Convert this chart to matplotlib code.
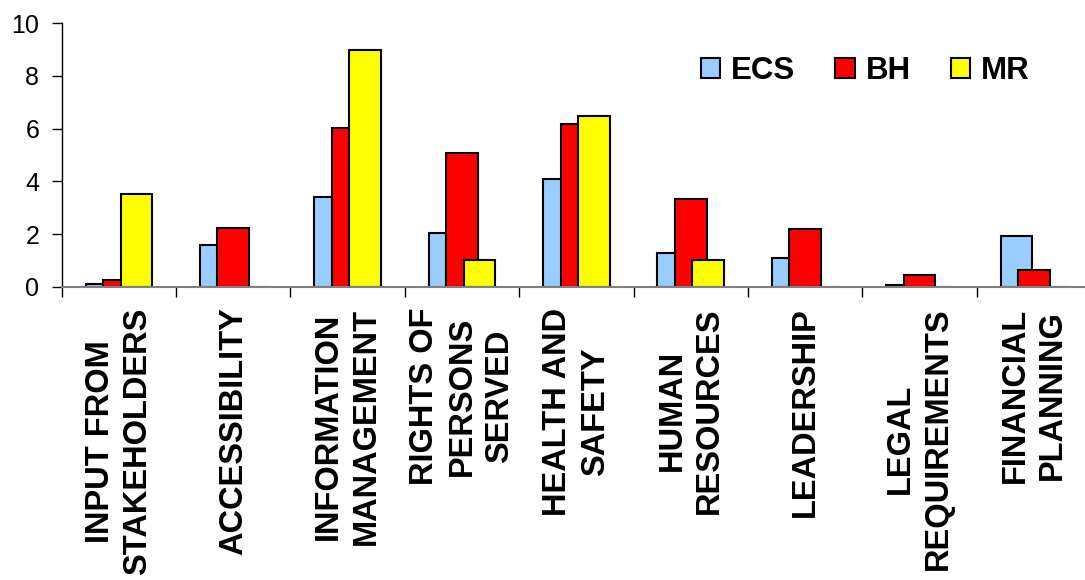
import numpy as np
import matplotlib
matplotlib.use("Agg")
import matplotlib.pyplot as plt

categories = [
    "INPUT FROM\nSTAKEHOLDERS",
    "ACCESSIBILITY",
    "INFORMATION\nMANAGEMENT",
    "RIGHTS OF\nPERSONS\nSERVED",
    "HEALTH AND\nSAFETY",
    "HUMAN\nRESOURCES",
    "LEADERSHIP",
    "LEGAL\nREQUIREMENTS",
    "FINANCIAL\nPLANNING",
]
ecs = [0.11, 1.59, 3.39, 2.05, 4.10, 1.28, 1.09, 0.06, 1.92]
bh = [0.25, 2.23, 6.03, 5.06, 6.16, 3.33, 2.18, 0.44, 0.63]
mr = [3.53, 0.0, 8.99, 1.01, 6.48, 1.01, 0.0, 0.0, 0.0]

series = [("ECS", ecs, "#99CCFF"), ("BH", bh, "#FF0000"), ("MR", mr, "#FFFF00")]

plt.rcParams["font.family"] = ["Liberation Sans", "DejaVu Sans"]

W, H = 1085, 580
fig = plt.figure(figsize=(W / 100, H / 100), dpi=100)
ax = fig.add_axes([61.7 / W, 1 - 286.7 / H, 1029.4 / W, 263.4 / H])

x = np.arange(len(categories)) + 0.5
bar_w = 0.277
step = 0.153
for i, (name, vals, col) in enumerate(series):
    ax.bar(x + (i - 1) * step, vals, width=bar_w, color=col, edgecolor="black",
           linewidth=1.5, label=name, zorder=2 + i)

ax.set_xlim(0, len(categories))
ax.set_ylim(0, 10)
ax.set_yticks([0, 2, 4, 6, 8, 10])
ax.tick_params(axis="y", labelsize=18, length=7.2, width=1, pad=9, color="black")

ax.set_xticks(np.arange(len(categories) + 1), minor=False)
ax.set_xticklabels([])
ax.set_xticks(x, minor=True)
ax.set_xticklabels(categories, minor=True, rotation=90, fontsize=23.5,
                   fontweight="bold", linespacing=1.28, va="top", ha="center",
                   multialignment="center")
ax.tick_params(axis="x", which="major", length=7.2, width=1, color="black", direction="out")
ax.tick_params(axis="x", which="minor", length=0, pad=15)

for s in ["top", "right"]:
    ax.spines[s].set_visible(False)
ax.spines["left"].set_color("black")
ax.spines["left"].set_linewidth(1)
ax.spines["bottom"].set_color("#808080")
ax.spines["bottom"].set_linewidth(1.5)
ax.spines["bottom"].set_zorder(10)

leg = fig.legend(loc="center left", bbox_to_anchor=(685 / W, 1 - 71 / H), ncol=3,
                 frameon=False, borderpad=0, handlelength=0.62, handleheight=0.62,
                 handletextpad=0.36, columnspacing=1.27,
                 prop={"size": 22.5, "weight": "bold"})

fig.savefig("out.png", dpi=100)
